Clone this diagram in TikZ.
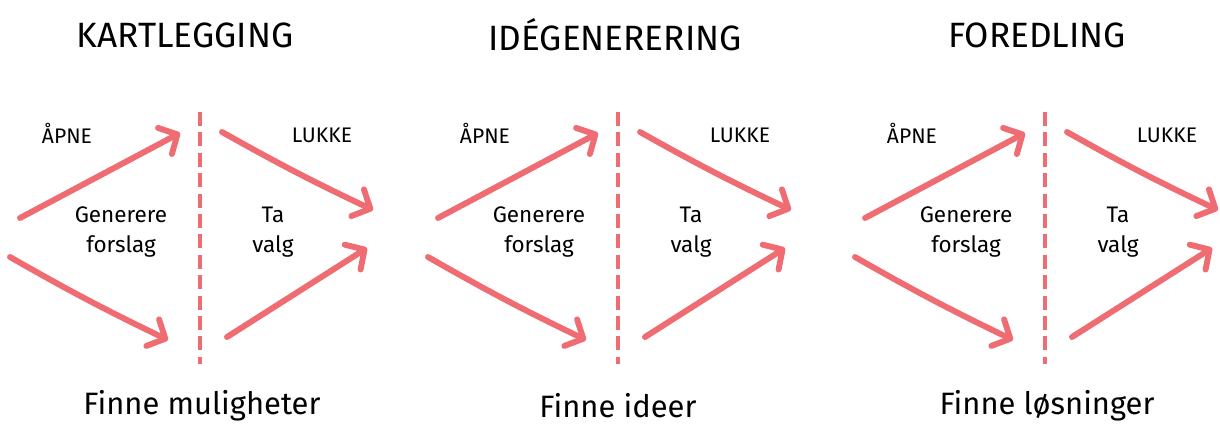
\documentclass[tikz,border=0pt]{standalone}
\usepackage{fontspec}
\setmainfont{Fira Sans}
\usepackage{tikz}
\usetikzlibrary{arrows.meta}

\definecolor{flowred}{RGB}{238,108,114}

\begin{document}
\begin{tikzpicture}[
  x=0.025cm, y=-0.025cm,
  flow/.style={-{Straight Barb[length=10pt,width=21pt,line cap=round,line join=round]},
               line width=4.2pt, color=flowred, line cap=round},
  cut/.style={line width=2.2pt, color=flowred, dash pattern=on 10pt off 4.5pt},
  head/.style={font=\fontsize{25}{28}\selectfont},
  tag/.style={font=\fontsize{15}{17}\selectfont},
  note/.style={align=center, font=\fontsize{16}{21.5}\selectfont},
  goal/.style={font=\fontsize{22}{26}\selectfont},
]
\useasboundingbox (0,0) rectangle (1220,427);

\foreach \d/\hx/\gx/\title/\goal [count=\i] in {
    200/185/202/KARTLEGGING/Finne muligheter,
    618/615/618/IDÉGENERERING/Finne ideer,
    1045/1037/1047/FOREDLING/Finne løsninger} {
  % tekster
  \node[head] (title\i) at (\hx,35)      {\title};
  \node[tag]  (open\i)  at (\d-133,133)  {ÅPNE};
  \node[tag]  (close\i) at (\d+122,135)  {LUKKE};
  \node[note] (gen\i)   at (\d-79,232)   {Generere\\forslag};
  \node[note] (pick\i)  at (\d+73,232)   {Ta\\valg};
  \node[goal] (goal\i)  at (\gx,406)     {\goal};

  % endepunkter
  \coordinate (cutA\i) at (\d,112);
  \coordinate (cutB\i) at (\d,364);
  \coordinate (ulA\i)  at (\d-180,218);
  \coordinate (ulB\i)  at (\d-20,133);
  \coordinate (llA\i)  at (\d-190,257);
  \coordinate (llB\i)  at (\d-32,340);
  \coordinate (urA\i)  at (\d+22,132);
  \coordinate (urB\i)  at (\d+173,210);
  \coordinate (lrA\i)  at (\d+27,337);
  \coordinate (lrB\i)  at (\d+167,248);

  \draw[cut]  (cutA\i) -- (cutB\i);
  \draw[flow] (ulA\i) -- (ulB\i);
  \draw[flow] (llA\i) to[bend right=2] (llB\i);
  \draw[flow] (urA\i) to[bend right=2] (urB\i);
  \draw[flow] (lrA\i) -- (lrB\i);
}
\end{tikzpicture}
\end{document}
